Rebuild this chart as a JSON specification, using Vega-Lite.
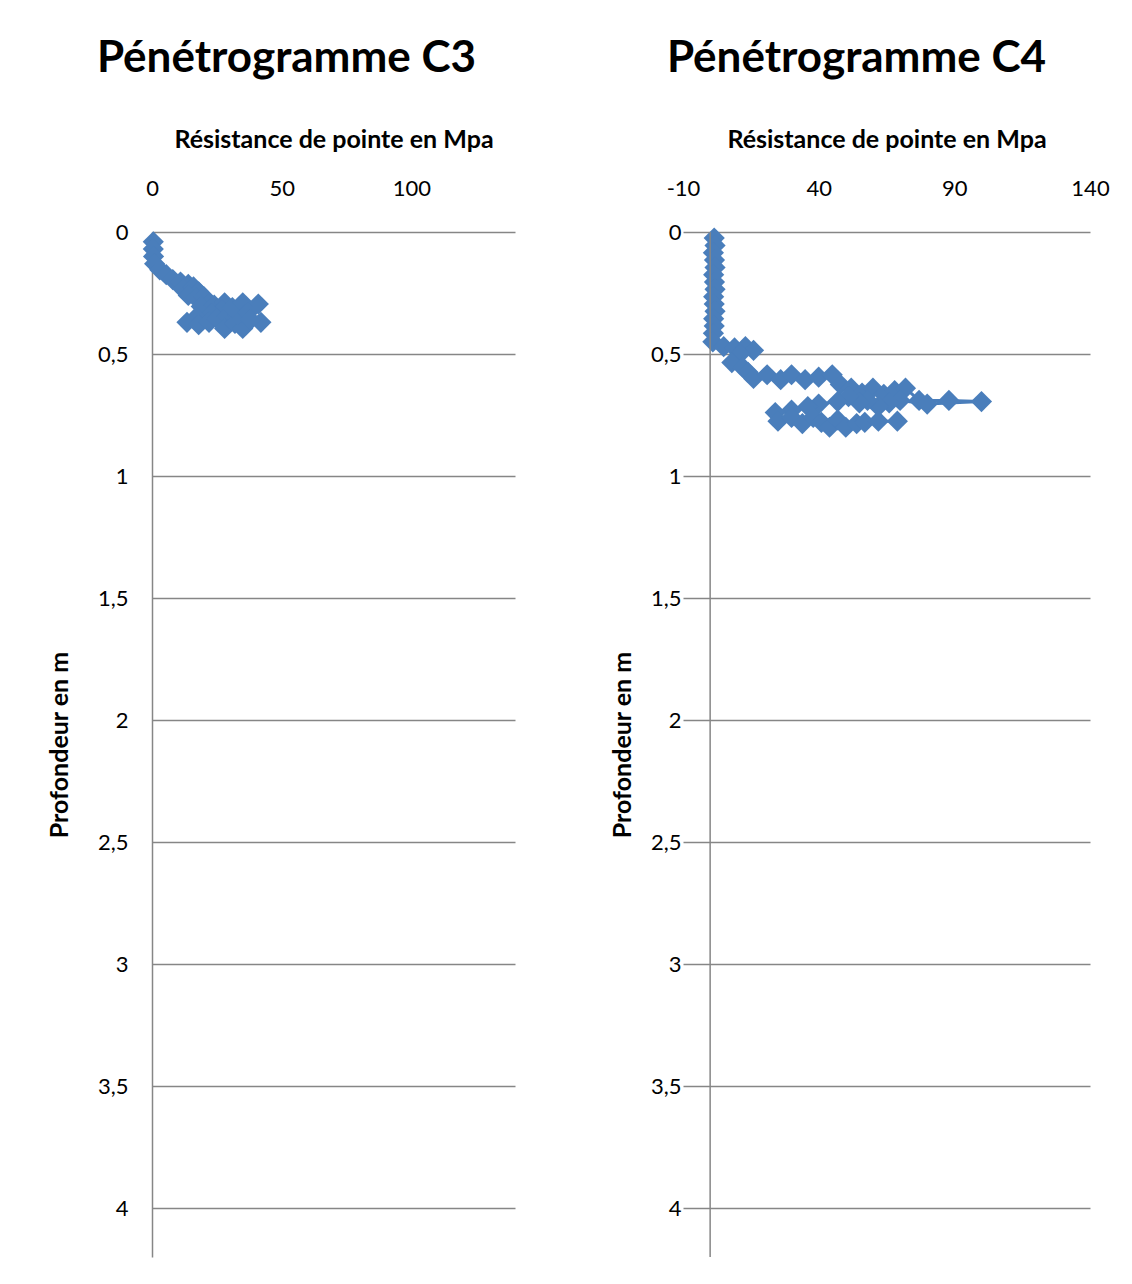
{
"$schema":"https://vega.github.io/schema/vega-lite/v6.json",
"background":"white",
"padding":{"left":47,"top":37,"right":10,"bottom":10},
"spacing":95,
"config":{"view":{"stroke":null},"font":"Lato",
 "axis":{"labelFont":"Lato","labelFontSize":22,"labelColor":"#000","titleFont":"Lato","titleFontSize":25,"titleFontWeight":"bold","titleColor":"#000","gridColor":"#868686","gridWidth":1.3,"gridOpacity":1,"domainColor":"#868686","domainWidth":1.5,"ticks":false,"tickSize":0,"labelFlush":false,"labelExpr":"replace(datum.value + '', '.', ',')"},
 "title":{"font":"Lato","fontSize":44,"fontWeight":"bold","color":"#000"}},
"hconcat":[
 {
  "width":363,"height":1025,
  "title":{"text":"Pénétrogramme C3","dx":-47,"offset":46},
  "data":{"values":[
   {"ordre":1,"resistance":0.5,"profondeur":0.04},
   {"ordre":2,"resistance":0.5,"profondeur":0.07},
   {"ordre":3,"resistance":0.6,"profondeur":0.10},
   {"ordre":4,"resistance":1.0,"profondeur":0.13},
   {"ordre":5,"resistance":3,"profondeur":0.155},
   {"ordre":6,"resistance":5.5,"profondeur":0.175},
   {"ordre":7,"resistance":8,"profondeur":0.195},
   {"ordre":8,"resistance":11,"profondeur":0.205},
   {"ordre":9,"resistance":14,"profondeur":0.215},
   {"ordre":10,"resistance":12,"profondeur":0.235},
   {"ordre":11,"resistance":16,"profondeur":0.225},
   {"ordre":12,"resistance":18,"profondeur":0.245},
   {"ordre":13,"resistance":14,"profondeur":0.26},
   {"ordre":14,"resistance":17,"profondeur":0.27},
   {"ordre":15,"resistance":20,"profondeur":0.265},
   {"ordre":16,"resistance":22,"profondeur":0.29},
   {"ordre":17,"resistance":19,"profondeur":0.305},
   {"ordre":18,"resistance":24,"profondeur":0.30},
   {"ordre":19,"resistance":28,"profondeur":0.29},
   {"ordre":20,"resistance":27,"profondeur":0.32},
   {"ordre":21,"resistance":23,"profondeur":0.335},
   {"ordre":22,"resistance":17,"profondeur":0.35},
   {"ordre":23,"resistance":13.5,"profondeur":0.37},
   {"ordre":24,"resistance":18,"profondeur":0.38},
   {"ordre":25,"resistance":22,"profondeur":0.37},
   {"ordre":26,"resistance":25,"profondeur":0.355},
   {"ordre":27,"resistance":29,"profondeur":0.345},
   {"ordre":28,"resistance":28,"profondeur":0.395},
   {"ordre":29,"resistance":32,"profondeur":0.375},
   {"ordre":30,"resistance":35,"profondeur":0.395},
   {"ordre":31,"resistance":33,"profondeur":0.34},
   {"ordre":32,"resistance":31,"profondeur":0.31},
   {"ordre":33,"resistance":35,"profondeur":0.29},
   {"ordre":34,"resistance":41,"profondeur":0.295},
   {"ordre":35,"resistance":37,"profondeur":0.33},
   {"ordre":36,"resistance":42,"profondeur":0.37},
   {"ordre":37,"resistance":38,"profondeur":0.36}
  ]},
  "layer":[
   {"mark":{"type":"line","color":"#4A7EBB","strokeWidth":3},
    "encoding":{
     "x":{"field":"resistance","type":"quantitative","scale":{"domain":[0,140],"nice":false,"zero":false},
      "axis":{"orient":"top","values":[0,50,100],"title":"Résistance de pointe en Mpa","grid":false,"domain":false,"labelPadding":32,"titlePadding":25}},
     "y":{"field":"profondeur","type":"quantitative","scale":{"domain":[0,4.2],"reverse":true,"nice":false},
      "axis":{"values":[0,0.5,1,1.5,2,2.5,3,3.5,4],"title":"Profondeur en m","labelPadding":24,"titlePadding":25,"domain":true}},
     "order":{"field":"ordre","type":"quantitative"}}},
   {"mark":{"type":"point","shape":"diamond","size":450,"filled":true,"color":"#4A7EBB","opacity":1},
    "encoding":{
     "x":{"field":"resistance","type":"quantitative"},
     "y":{"field":"profondeur","type":"quantitative"}}}
  ]
 },
 {
  "width":407,"height":1025,
  "title":{"text":"Pénétrogramme C4","dx":-30,"offset":46},
  "data":{"values":[
   {"ordre":1,"resistance":1.5,"profondeur":0.025},
   {"ordre":2,"resistance":1.8,"profondeur":0.055},
   {"ordre":3,"resistance":1.2,"profondeur":0.085},
   {"ordre":4,"resistance":1.6,"profondeur":0.115},
   {"ordre":5,"resistance":1.8,"profondeur":0.145},
   {"ordre":6,"resistance":1.3,"profondeur":0.175},
   {"ordre":7,"resistance":1.6,"profondeur":0.205},
   {"ordre":8,"resistance":1.8,"profondeur":0.235},
   {"ordre":9,"resistance":1.3,"profondeur":0.265},
   {"ordre":10,"resistance":1.5,"profondeur":0.295},
   {"ordre":11,"resistance":1.8,"profondeur":0.325},
   {"ordre":12,"resistance":1.3,"profondeur":0.355},
   {"ordre":13,"resistance":1.5,"profondeur":0.385},
   {"ordre":14,"resistance":1.2,"profondeur":0.415},
   {"ordre":15,"resistance":1.0,"profondeur":0.45},
   {"ordre":16,"resistance":5,"profondeur":0.47},
   {"ordre":17,"resistance":9,"profondeur":0.475},
   {"ordre":18,"resistance":13,"profondeur":0.47},
   {"ordre":19,"resistance":16,"profondeur":0.485},
   {"ordre":20,"resistance":11,"profondeur":0.50},
   {"ordre":21,"resistance":8,"profondeur":0.535},
   {"ordre":22,"resistance":12,"profondeur":0.555},
   {"ordre":23,"resistance":14,"profondeur":0.575},
   {"ordre":24,"resistance":16,"profondeur":0.60},
   {"ordre":25,"resistance":21,"profondeur":0.585},
   {"ordre":26,"resistance":26,"profondeur":0.605},
   {"ordre":27,"resistance":30,"profondeur":0.585},
   {"ordre":28,"resistance":35,"profondeur":0.605},
   {"ordre":29,"resistance":40,"profondeur":0.595},
   {"ordre":30,"resistance":45,"profondeur":0.585},
   {"ordre":31,"resistance":48,"profondeur":0.625},
   {"ordre":32,"resistance":52,"profondeur":0.64},
   {"ordre":33,"resistance":56,"profondeur":0.66},
   {"ordre":34,"resistance":60,"profondeur":0.64},
   {"ordre":35,"resistance":64,"profondeur":0.665},
   {"ordre":36,"resistance":68,"profondeur":0.65},
   {"ordre":37,"resistance":72,"profondeur":0.64},
   {"ordre":38,"resistance":77,"profondeur":0.69},
   {"ordre":39,"resistance":88,"profondeur":0.69},
   {"ordre":40,"resistance":100,"profondeur":0.695},
   {"ordre":41,"resistance":80,"profondeur":0.705},
   {"ordre":42,"resistance":70,"profondeur":0.69},
   {"ordre":43,"resistance":66,"profondeur":0.70},
   {"ordre":44,"resistance":62,"profondeur":0.715},
   {"ordre":45,"resistance":58,"profondeur":0.69},
   {"ordre":46,"resistance":55,"profondeur":0.70},
   {"ordre":47,"resistance":51,"profondeur":0.675},
   {"ordre":48,"resistance":47,"profondeur":0.695},
   {"ordre":49,"resistance":40,"profondeur":0.705},
   {"ordre":50,"resistance":36,"profondeur":0.715},
   {"ordre":51,"resistance":30,"profondeur":0.73},
   {"ordre":52,"resistance":24,"profondeur":0.74},
   {"ordre":53,"resistance":25,"profondeur":0.775},
   {"ordre":54,"resistance":30,"profondeur":0.76},
   {"ordre":55,"resistance":34,"profondeur":0.785},
   {"ordre":56,"resistance":38,"profondeur":0.76},
   {"ordre":57,"resistance":41,"profondeur":0.78},
   {"ordre":58,"resistance":44,"profondeur":0.80},
   {"ordre":59,"resistance":47,"profondeur":0.77},
   {"ordre":60,"resistance":50,"profondeur":0.80},
   {"ordre":61,"resistance":54,"profondeur":0.785},
   {"ordre":62,"resistance":57,"profondeur":0.78},
   {"ordre":63,"resistance":62,"profondeur":0.775},
   {"ordre":64,"resistance":69,"profondeur":0.775}
  ]},
  "layer":[
   {"mark":{"type":"line","color":"#4A7EBB","strokeWidth":3},
    "encoding":{
     "x":{"field":"resistance","type":"quantitative","scale":{"domain":[-10,140],"nice":false,"zero":false},
      "axis":{"orient":"top","values":[-10,40,90,140],"title":"Résistance de pointe en Mpa","grid":false,"domain":false,"labelPadding":32,"titlePadding":25}},
     "y":{"field":"profondeur","type":"quantitative","scale":{"domain":[0,4.2],"reverse":true,"nice":false},
      "axis":{"values":[0,0.5,1,1.5,2,2.5,3,3.5,4],"title":"Profondeur en m","labelPadding":2,"titlePadding":15,"domain":false}},
     "order":{"field":"ordre","type":"quantitative"}}},
   {"mark":{"type":"point","shape":"diamond","size":450,"filled":true,"color":"#4A7EBB","opacity":1},
    "encoding":{
     "x":{"field":"resistance","type":"quantitative"},
     "y":{"field":"profondeur","type":"quantitative"}}},
   {"data":{"values":[{}]},
    "mark":{"type":"rule","color":"#868686","strokeWidth":1.5},
    "encoding":{"x":{"datum":0}}}
  ]
 }
]
}
